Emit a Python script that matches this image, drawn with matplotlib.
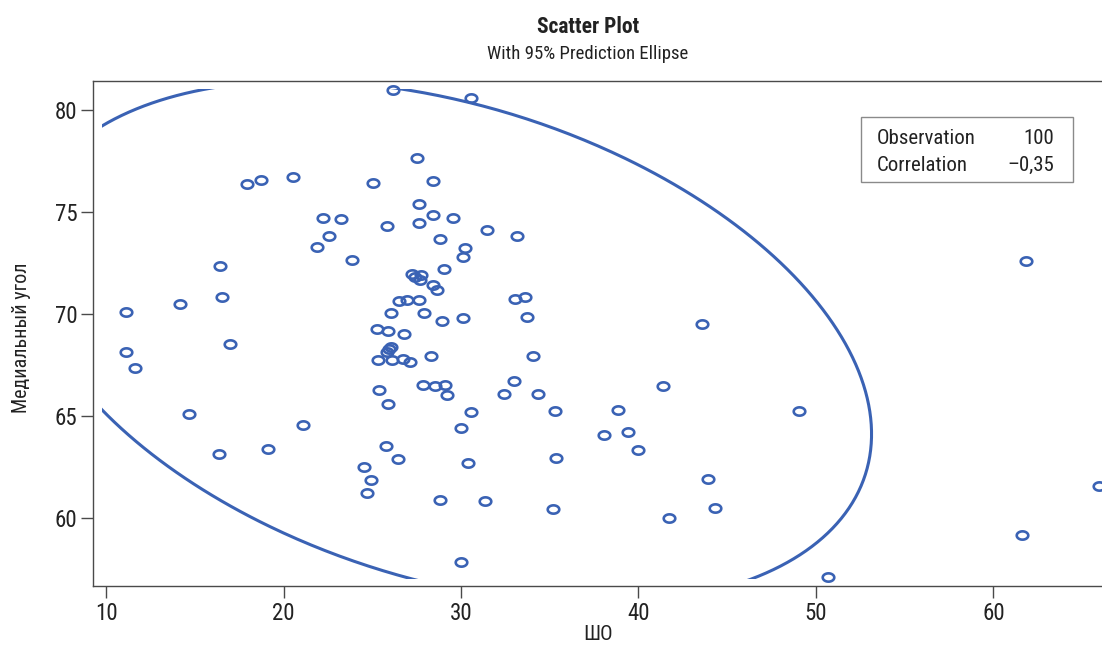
import numpy as np
import matplotlib
matplotlib.use('Agg')
import matplotlib.pyplot as plt
from matplotlib import font_manager
from matplotlib.path import Path
from matplotlib.patches import Rectangle

# ---------------- data ----------------
sho = [26.16, 30.55, 27.51, 17.93, 18.72, 20.55, 25.03, 28.41, 27.65, 28.41,
       22.25, 23.23, 25.85, 27.65, 29.54, 31.45, 33.14, 28.82, 22.55, 21.87,
       23.86, 30.25, 30.10, 16.42, 29.05, 27.24, 27.73, 27.69, 28.41, 28.64,
       16.54, 14.17, 11.11, 26.53, 26.94, 27.65, 33.06, 33.63, 26.08, 27.92,
       28.93, 30.10, 33.71, 25.29, 25.89, 26.79, 26.04, 25.85, 25.33, 26.12,
       26.72, 27.13, 28.33, 34.04, 25.40, 25.89, 27.88, 28.52, 29.09, 29.23,
       32.43, 32.99, 34.34, 35.32, 30.55, 29.99, 21.08, 25.78, 26.47, 30.38,
       35.36, 24.54, 24.93, 24.69, 28.82, 31.37, 35.17, 29.99, 11.11, 11.62,
       16.99, 14.69, 19.15, 16.35, 61.83, 43.60, 41.37, 38.83, 39.42, 38.06,
       39.96, 49.05, 43.92, 44.30, 41.71, 61.63, 50.69, 65.94, 27.40, 25.95]
angle = [80.98, 80.57, 77.66, 76.37, 76.57, 76.73, 76.40, 76.52, 75.40, 74.85,
         74.69, 74.65, 74.29, 74.44, 74.72, 74.11, 73.80, 73.67, 73.80, 73.28,
         72.63, 73.23, 72.77, 72.35, 72.20, 71.94, 71.91, 71.68, 71.42, 71.20,
         70.84, 70.47, 70.09, 70.63, 70.69, 70.69, 70.73, 70.84, 70.03, 70.03,
         69.68, 69.81, 69.83, 69.29, 69.16, 69.03, 68.39, 68.16, 67.74, 67.77,
         67.80, 67.67, 67.93, 67.92, 66.30, 65.59, 66.54, 66.46, 66.50, 66.05,
         66.10, 66.72, 66.10, 65.25, 65.20, 64.43, 64.56, 63.53, 62.91, 62.70,
         62.96, 62.50, 61.86, 61.25, 60.87, 60.83, 60.44, 57.86, 68.16, 67.33,
         68.54, 65.10, 63.40, 63.12, 72.61, 69.51, 66.48, 65.32, 64.24, 64.05,
         63.34, 65.25, 61.89, 60.47, 60.00, 59.18, 57.09, 61.56, 71.80, 68.30]

x_ticks = [10, 20, 30, 40, 50, 60]
y_ticks = [60, 65, 70, 75, 80]
title = "Scatter Plot"
subtitle = "With 95% Prediction Ellipse"
x_label = "ШО"
y_label = "Медиальный угол"
stat_names = ["Observation", "Correlation"]
stat_values = [str(len(sho)), "\u20130,35"]
confidence = 0.95

# ---------------- fonts ----------------
avail = {f.name for f in font_manager.fontManager.ttflist}
FONT = 'DejaVu Sans'
for cand in ['Liberation Sans Narrow', 'Roboto Condensed', 'Open Sans Condensed',
             'DejaVu Sans Condensed', 'Liberation Sans']:
    if cand in avail:
        FONT = cand
        break
plt.rcParams['font.family'] = [FONT, 'DejaVu Sans']

BLUE = '#3a62b4'
TXT = '#222222'
AX = '#4a4a4a'

W, H = 1102, 647
fig = plt.figure(figsize=(W / 100, H / 100), dpi=100)
left, right, top, bottom = 93.3, 1102, 81, 586
ax = fig.add_axes([left / W, 1 - bottom / H, (right - left) / W, (bottom - top) / H])

x = np.array(sho)
y = np.array(angle)

# ---------------- prediction ellipse ----------------
n = len(x)
mean = np.array([x.mean(), y.mean()])
cov = np.cov(x, y)
Fq = (n - 2) / 2.0 * ((1 - confidence) ** (-2.0 / (n - 2)) - 1)
c = np.sqrt(2.0 * (n - 1) * (n + 1) / (n * (n - 2)) * Fq)
vals, vecs = np.linalg.eigh(cov)
t = np.linspace(0, 2 * np.pi, 721)
circ = np.vstack([np.cos(t), np.sin(t)])
pts = (vecs @ np.diag(np.sqrt(vals)) @ circ) * c + mean[:, None]
line, = ax.plot(pts[0], pts[1], color=BLUE, lw=2.2, zorder=2, solid_capstyle='butt')
clip = Rectangle((9.75, 57.02), 66.5 - 9.75, 81.05 - 57.02, transform=ax.transData)
line.set_clip_path(clip)

# ---------------- markers ----------------
tt = np.linspace(0, 2 * np.pi, 60)
ell_marker = Path(np.column_stack([np.cos(tt), 0.72 * np.sin(tt)]), closed=True)
ax.plot(x, y, linestyle='none', marker=ell_marker, markersize=8.3,
        markerfacecolor='none', markeredgecolor=BLUE, markeredgewidth=1.9, zorder=3)

ax.set_xlim(9.28, 66.12)
ax.set_ylim(56.67, 81.42)
ax.set_xticks(x_ticks)
ax.set_yticks(y_ticks)
ax.tick_params(axis='both', direction='out', length=8.6, width=1.0, color=AX,
               labelsize=16.5, labelcolor=TXT, pad=3)
for s in ['left', 'bottom', 'top']:
    ax.spines[s].set_color(AX)
    ax.spines[s].set_linewidth(1.0)
ax.spines['right'].set_visible(False)

ax.set_xlabel(x_label, fontsize=15, color=TXT, labelpad=0)
ax.set_ylabel(y_label, fontsize=14.5, color=TXT)
ax.yaxis.set_label_coords((31 - left) / (right - left), 1 - (338 - top) / (bottom - top))

# ---------------- titles ----------------
fig.text(588 / W, 1 - 33 / H, title, ha='center', va='baseline', fontsize=15.5,
         fontweight='bold', color=TXT)
fig.text(588 / W, 1 - 59 / H, subtitle, ha='center', va='baseline', fontsize=13.5,
         color=TXT)

# ---------------- stats box ----------------
bx0, by0, bx1, by1 = 860.7, 116.7, 1072.7, 182.3
fig.patches.append(Rectangle((bx0 / W, 1 - by1 / H), (bx1 - bx0) / W, (by1 - by0) / H,
                             transform=fig.transFigure, facecolor='white',
                             edgecolor='#8a8a8a', lw=1.0, zorder=5))
for i, (nm, vv) in enumerate(zip(stat_names, stat_values)):
    yb = [144.3, 171.0][i]
    fig.text(876.7 / W, 1 - yb / H, nm, ha='left', va='baseline', fontsize=15,
             color=TXT, zorder=6)
    fig.text(1054 / W, 1 - yb / H, vv, ha='right', va='baseline', fontsize=15,
             color=TXT, zorder=6)

fig.savefig('out.png', dpi=100)
